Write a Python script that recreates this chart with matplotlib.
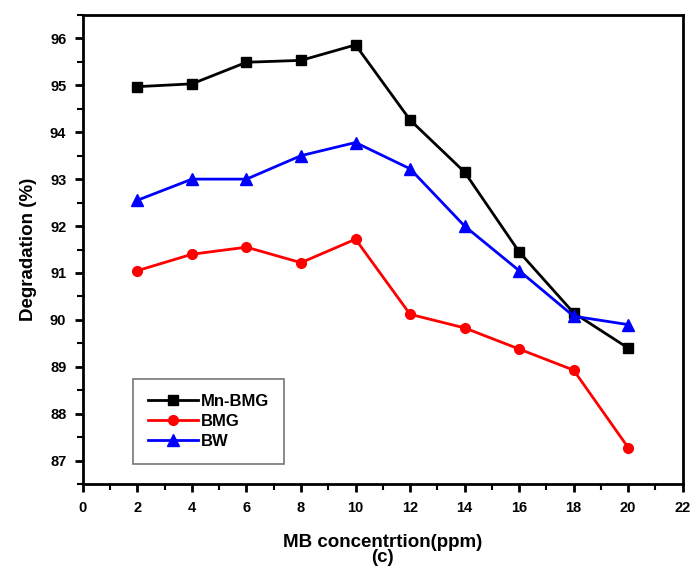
import matplotlib
matplotlib.use("Agg")
import matplotlib.pyplot as plt
from matplotlib.ticker import MultipleLocator

x = [2, 4, 6, 8, 10, 12, 14, 16, 18, 20]
mn_bmg = [94.97, 95.03, 95.49, 95.53, 95.86, 94.26, 93.15, 91.45, 90.15, 89.40]
bmg = [91.05, 91.40, 91.55, 91.22, 91.72, 90.12, 89.83, 89.38, 88.93, 87.28]
bw = [92.55, 93.00, 93.00, 93.50, 93.78, 93.22, 92.00, 91.05, 90.08, 89.90]
labels = ["Mn-BMG", "BMG", "BW"]

plt.rcParams['font.family'] = ['Liberation Sans', 'DejaVu Sans']
fig = plt.figure(figsize=(6.91, 5.71), dpi=100)
ax = fig.add_axes([0.120, 0.152, 0.868, 0.822])

ax.plot(x, mn_bmg, color='black', marker='s', markersize=7, lw=2, label=labels[0])
ax.plot(x, bmg, color='#ff0000', marker='o', markersize=7, lw=2, label=labels[1])
ax.plot(x, bw, color='#0000ff', marker='^', markersize=8, lw=2, label=labels[2])

ax.set_xlim(0, 22)
ax.set_ylim(86.5, 96.5)
ax.xaxis.set_major_locator(MultipleLocator(2))
ax.xaxis.set_minor_locator(MultipleLocator(1))
ax.yaxis.set_minor_locator(MultipleLocator(0.5))
ax.set_yticks(range(87, 97))
for s in ax.spines.values():
    s.set_linewidth(2)
ax.tick_params(which='major', direction='out', length=6, width=2, labelsize=10.5, pad=6)
ax.tick_params(which='minor', direction='out', length=4, width=1.5)
for t in ax.get_xticklabels() + ax.get_yticklabels():
    t.set_fontweight('bold')

ax.set_xlabel("MB concentrtion(ppm)\n(c)", fontsize=13.5, fontweight='bold', linespacing=0.8, labelpad=14)
ax.set_ylabel("Degradation (%)", fontsize=13.5, fontweight='bold', labelpad=9)

leg = ax.legend(loc='lower left', bbox_to_anchor=(0.083, 0.043), borderaxespad=0, fontsize=12,
                frameon=True, fancybox=False, edgecolor='#555555', handlelength=3,
                handletextpad=0.2, labelspacing=0.3, borderpad=0.9)
leg.get_frame().set_linewidth(1.2)
for t in leg.get_texts():
    t.set_fontweight('bold')

fig.savefig("out.png", dpi=100)
